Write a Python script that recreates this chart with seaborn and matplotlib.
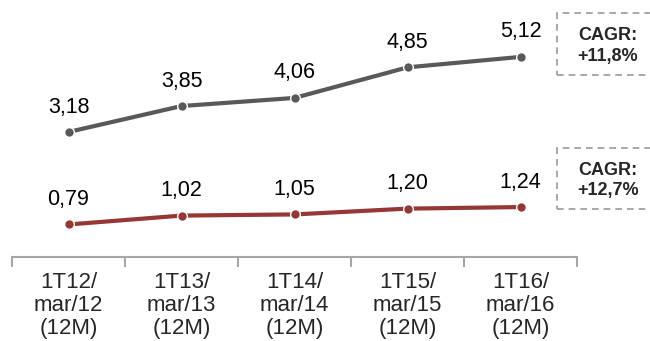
import matplotlib
matplotlib.use("Agg")
import matplotlib.pyplot as plt
from matplotlib.patches import Rectangle
import seaborn as sns
import pandas as pd

periods = ["1T12/\nmar/12\n(12M)", "1T13/\nmar/13\n(12M)", "1T14/\nmar/14\n(12M)",
           "1T15/\nmar/15\n(12M)", "1T16/\nmar/16\n(12M)"]
upper_values = [3.18, 3.85, 4.06, 4.85, 5.12]
lower_values = [0.79, 1.02, 1.05, 1.20, 1.24]
cagr_upper = "CAGR:\n+11,8%"
cagr_lower = "CAGR:\n+12,7%"

sns.set_style("white")
plt.rcParams["font.family"] = ["Liberation Sans", "DejaVu Sans"]

df = pd.DataFrame({
    "pos": list(range(len(periods))) * 2,
    "value": upper_values + lower_values,
    "serie": ["upper"] * len(periods) + ["lower"] * len(periods),
})
colors = {"upper": "#595959", "lower": "#953735"}

fig = plt.figure(figsize=(6.5, 3.41), dpi=100)
ax = fig.add_axes([12 / 650, 84 / 341, 565 / 650, 257 / 341])

sns.lineplot(data=df, x="pos", y="value", hue="serie", palette=colors, ax=ax,
             linewidth=3, marker="o", markersize=7, markeredgecolor="white",
             markeredgewidth=1, legend=False)

for serie in ["upper", "lower"]:
    sub = df[df["serie"] == serie]
    for x, y in zip(sub["pos"], sub["value"]):
        ax.annotate(f"{y:.2f}".replace(".", ","), (x, y), xytext=(0, 14),
                    textcoords="offset points", ha="center", va="baseline",
                    fontsize=15.5, color="black")

ax.set_xlim(-0.5, len(periods) - 0.5)
ax.set_ylim(-0.05, 6.59)
ax.set_yticks([])
ax.set_xticks(range(len(periods)))
ax.set_xticklabels(periods, fontsize=16, linespacing=1.12)
ax.set_xticks([i - 0.5 for i in range(len(periods) + 1)], minor=True)
ax.tick_params(axis="x", which="major", length=0, pad=11)
ax.tick_params(axis="x", which="minor", length=7, width=1.5, color="#a6a6a6", bottom=True)
ax.set_xlabel("")
ax.set_ylabel("")
for side in ["top", "left", "right"]:
    ax.spines[side].set_visible(False)
ax.spines["bottom"].set_color("#a6a6a6")
ax.spines["bottom"].set_linewidth(1.5)

# CAGR boxes
for top, bottom, txt in [(13, 75, cagr_upper), (148, 209, cagr_lower)]:
    rect = Rectangle((557 / 650, 1 - bottom / 341), 120 / 650, (bottom - top) / 341,
                     transform=fig.transFigure, fill=False, edgecolor="#999999",
                     linestyle=(0, (4, 3)), linewidth=1.2)
    fig.patches.append(rect)
    fig.text(608 / 650, 1 - (top + bottom + 4) / 2 / 341, txt, ha="center", va="center",
             fontsize=13, fontweight="bold", linespacing=1.3)

fig.savefig("out.png", dpi=100)
